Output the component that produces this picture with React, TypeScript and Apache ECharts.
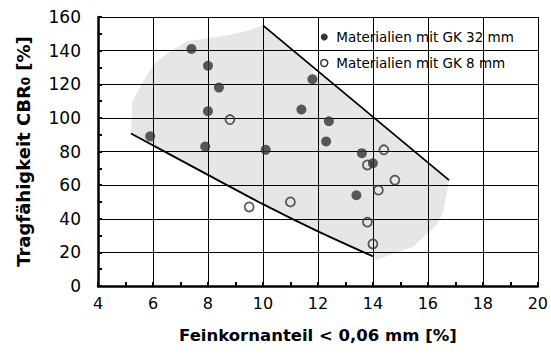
import React, { useEffect, useRef } from "react";
import * as echarts from "echarts";

// Materialien mit GK 32 mm (filled)
const gk32X = [7.4, 8.0, 8.4, 8.0, 5.9, 7.9, 10.1, 11.8, 11.4, 12.4, 12.3, 13.6, 14.0, 13.4];
const gk32Y = [141, 131, 118, 104, 89, 83, 81, 123, 105, 98, 86, 79, 73, 54];
// Materialien mit GK 8 mm (open)
const gk8X = [8.8, 14.4, 13.8, 14.8, 14.2, 11.0, 13.8, 14.0, 9.5];
const gk8Y = [99, 81, 72, 63, 57, 50, 38, 25, 47];

// Boundary lines
const upperX = [10.0, 16.77];
const upperY = [155, 63];
const lowerX = [5.2, 8.0, 10.0, 12.0, 14.0];
const lowerY = [90.7, 66.1, 48.7, 32.5, 17.6];

// Shaded area outline
const polyX = [5.2, 5.25, 5.71, 6.07, 6.62, 7.22, 7.89, 8.73, 9.34, 10.0, 16.77, 16.69, 16.55, 16.31, 15.94, 15.46, 14.85, 14.13, 14.0, 12.0, 10.0, 8.0];
const polyY = [90.7, 109.8, 123.7, 132.6, 139.5, 145.5, 147.1, 149.1, 151.5, 155, 63, 55.2, 43.3, 36.3, 30.4, 23.4, 19.8, 15.5, 17.6, 32.5, 48.7, 66.1];

const xTicks = { min: 4, max: 20, interval: 2, minor: 1 };
const yTicks = { min: 0, max: 160, interval: 20, minor: 10 };
// grid line positions (tick values)
const xGrid = [6, 8, 10, 12, 14, 16, 18, 20];
const yGrid = [20, 40, 60, 80, 100, 120, 140, 160];

const seriesNames = ["Materialien mit GK 32 mm", "Materialien mit GK 8 mm"];
const xName = "Feinkornanteil < 0,06 mm [%]";
const yName = "Tragfähigkeit CBR{sub|0} [%]";

const FONT = "DejaVu Sans";
const LINE = "#000";

function mainAxis(min: number, max: number, interval: number) {
  return {
    type: "value",
    min,
    max,
    interval,
    axisLine: { show: true, onZero: false, lineStyle: { color: "#000", width: 2.5 } },
    axisTick: { show: true, inside: true, length: 4, lineStyle: { color: LINE, width: 2 } },
    splitLine: { show: false },
  };
}

function minorAxis(min: number, max: number, interval: number, position: string) {
  return {
    type: "value",
    min,
    max,
    interval,
    position,
    axisLine: { show: false, onZero: false },
    axisTick: { show: true, inside: true, length: 4, lineStyle: { color: LINE, width: 2 } },
    axisLabel: { show: false },
    splitLine: { show: false },
  };
}

export default function App() {
  const ref = useRef<HTMLDivElement>(null);
  useEffect(() => {
    if (!ref.current) return;
    const chart = echarts.init(ref.current, null, { renderer: "svg" });
    const option: any = {
      animation: false,
      backgroundColor: "#fff",
      grid: { left: 98, right: 13, top: 17, bottom: 68 },
      xAxis: [
        {
          ...mainAxis(xTicks.min, xTicks.max, xTicks.interval),
          position: "bottom",
          axisLabel: { color: "#000", fontFamily: FONT, fontSize: 16, margin: 9 },
          name: xName,
          nameLocation: "middle",
          nameGap: 41,
          nameTextStyle: { fontFamily: FONT, fontWeight: "bold", fontSize: 16.5, color: "#000" },
        },
        minorAxis(xTicks.min, xTicks.max, xTicks.minor, "bottom"),
      ],
      yAxis: [
        {
          ...mainAxis(yTicks.min, yTicks.max, yTicks.interval),
          position: "left",
          axisLabel: { color: "#000", fontFamily: FONT, fontSize: 17, margin: 17 },
          name: yName,
          nameLocation: "middle",
          nameGap: 66,
          nameRotate: 90,
          nameTextStyle: {
            fontFamily: FONT,
            fontWeight: "bold",
            fontSize: 18,
            color: "#000",
            rich: { sub: { fontFamily: FONT, fontWeight: "bold", fontSize: 12, color: "#000", verticalAlign: "bottom" } },
          },
        },
        minorAxis(yTicks.min, yTicks.max, yTicks.minor, "left"),
      ],
      legend: {
        orient: "vertical",
        left: 313,
        top: 25,
        padding: [5, 12, 4, 7],
        backgroundColor: "#fff",
        itemWidth: 14,
        itemHeight: 7,
        itemGap: 12,
        z: 3,
        textStyle: { fontFamily: FONT, fontSize: 13.5, color: "#000" },
        data: [
          { name: seriesNames[0], icon: "circle", itemStyle: { color: "#000" } },
          { name: seriesNames[1], icon: "circle", itemStyle: { color: "#fff", borderColor: "#000", borderWidth: 1.5 } },
        ],
      },
      series: [
        {
          type: "line",
          name: "grid",
          z: 0,
          silent: true,
          data: [],
          symbol: "none",
          markLine: {
            silent: true,
            animation: false,
            symbol: ["none", "none"],
            label: { show: false },
            emphasis: { disabled: true },
            lineStyle: { color: "#000", width: 1, type: "solid" },
            data: [...xGrid.map((v) => ({ xAxis: v })), ...yGrid.map((v) => ({ yAxis: v }))],
          },
        },
        {
          type: "custom",
          name: "area",
          z: 1,
          silent: true,
          data: [[polyX[0], polyY[0]]],
          renderItem: (params: any, api: any) => ({
            type: "polygon",
            shape: { points: polyX.map((x, i) => api.coord([x, polyY[i]])) },
            style: { fill: "rgba(210,210,210,0.55)" },
          }),
        },
        {
          type: "line",
          name: "upper",
          z: 5,
          data: upperX.map((x, i) => [x, upperY[i]]),
          showSymbol: false,
          symbol: "none",
          lineStyle: { color: "#000", width: 1.8 },
        },
        {
          type: "line",
          name: "lower",
          z: 5,
          data: lowerX.map((x, i) => [x, lowerY[i]]),
          showSymbol: false,
          symbol: "none",
          smooth: 0.2,
          lineStyle: { color: "#000", width: 1.8 },
        },
        {
          type: "scatter",
          name: seriesNames[1],
          z: 6,
          symbol: "circle",
          symbolSize: 9,
          itemStyle: { color: "rgba(0,0,0,0)", borderColor: "#333", borderWidth: 1.8 },
          data: gk8X.map((x, i) => [x, gk8Y[i]]),
        },
        {
          type: "scatter",
          name: seriesNames[0],
          z: 6,
          symbol: "circle",
          symbolSize: 10,
          itemStyle: { color: "#333" },
          data: gk32X.map((x, i) => [x, gk32Y[i]]),
        },
      ],
    };
    chart.setOption(option);
    return () => chart.dispose();
  }, []);
  return <div ref={ref} style={{ width: 551, height: 354, position: "absolute", left: 0, top: 0 }} />;
}
